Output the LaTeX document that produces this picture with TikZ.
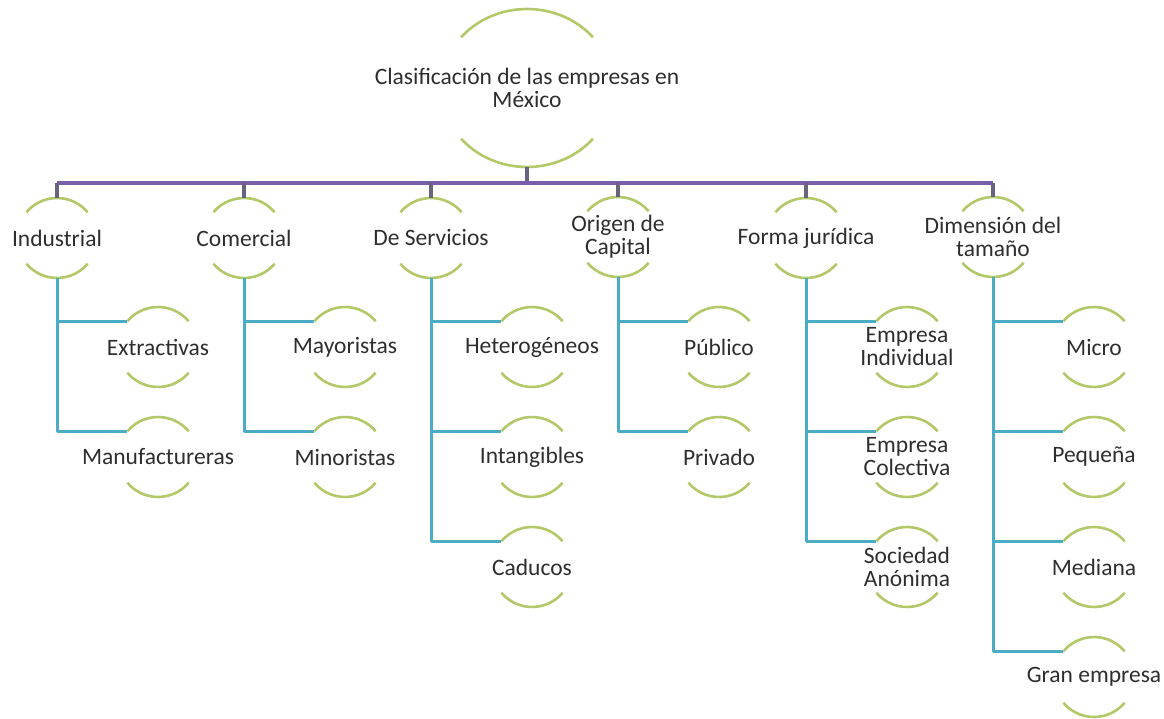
\documentclass[tikz,border=0pt]{standalone}
\usepackage{fontspec}
\setmainfont{Carlito}
\usepackage{tikz}
\usetikzlibrary{calc}
\definecolor{arcgreen}{RGB}{178,200,105}
\definecolor{buspurple}{RGB}{120,95,170}
\definecolor{stemgray}{RGB}{105,100,125}
\definecolor{ramateal}{RGB}{75,172,198}
\tikzset{
	texto/.style={align=center, inner sep=0pt, font=\fontsize{23.5}{23}\selectfont, text=black!82},
	arco/.style={draw=arcgreen, line width=2.6pt},
	bus/.style={draw=buspurple, line width=3.2pt},
	tallo/.style={draw=stemgray, line width=3.2pt},
	rama/.style={draw=ramateal, line width=3pt}
}

\begin{document}
\begin{tikzpicture}[x=1pt, y=1pt, line join=bevel]
				\useasboundingbox (0,0) rectangle (1164,-719);
				
				\node[texto] (raiz) at (527,-88) {Clasificación de las empresas en\\México};
				
				\node[texto] (ind) at (57,-238) {Industrial};
				\node[texto] (com) at (244,-238) {Comercial};
				\node[texto] (ser) at (431,-238) {De Servicios};
				\node[texto] (ori) at (618,-237) {Origen de\\Capital};
				\node[texto] (for) at (806,-238) {Forma jurídica};
				\node[texto] (dim) at (993,-237) {Dimensión del\\tamaño};
				
				\node[texto] (ind1) at (158,-347) {Extractivas};
				\node[texto] (ind2) at (158,-457) {Manufactureras};
				\node[texto] (com1) at (345,-347) {Mayoristas};
				\node[texto] (com2) at (345,-457) {Minoristas};
				\node[texto] (ser1) at (532,-347) {Heterogéneos};
				\node[texto] (ser2) at (532,-457) {Intangibles};
				\node[texto] (ser3) at (532,-567) {Caducos};
				\node[texto] (ori1) at (719,-347) {Público};
				\node[texto] (ori2) at (719,-457) {Privado};
				\node[texto] (for1) at (907,-347) {Empresa\\Individual};
				\node[texto] (for2) at (907,-457) {Empresa\\Colectiva};
				\node[texto] (for3) at (907,-567) {Sociedad\\Anónima};
				\node[texto] (dim1) at (1094,-347) {Micro};
				\node[texto] (dim2) at (1094,-457) {Pequeña};
				\node[texto] (dim3) at (1094,-567) {Mediana};
				\node[texto] (dim4) at (1094,-677) {Gran empresa};
				
				% Arcs round the root
				\draw[arco] ($(raiz)+(140:86 and 79)$) arc[start angle=140, end angle=40, x radius=86, y radius=79];
				\draw[arco] ($(raiz)+(220:86 and 79)$) arc[start angle=220, end angle=320, x radius=86, y radius=79];
				
				% Arcs round the other nodes
				\foreach \n in {ind,com,ser,ori,for,dim,ind1,ind2,com1,com2,ser1,ser2,ser3,ori1,ori2,for1,for2,for3,dim1,dim2,dim3,dim4}{
					\draw[arco] ($(\n)+(140:40)$) arc[start angle=140, end angle=40, radius=40];
					\draw[arco] ($(\n)+(220:40)$) arc[start angle=220, end angle=320, radius=40];
				}
				
				% Bus
				\draw[tallo] ($(raiz)+(0,-79)$) -- ++(0,-16) coordinate (bus);
				\draw[bus] (bus -| ind) -- (bus -| dim);
				\foreach \n in {ind,com,ser,ori,for,dim}
				\draw[tallo] (bus -| \n) -- ($(\n)+(0,40)$);
				
				% Branches
				\foreach \p/\h in {ind/ind1,ind/ind2,com/com1,com/com2,ser/ser1,ser/ser2,ser/ser3,ori/ori1,ori/ori2,for/for1,for/for2,for/for3,dim/dim1,dim/dim2,dim/dim3,dim/dim4}
				\draw[rama] ($(\p)+(0,-40)$) |- ($(\h)+(140:40)$);
			\end{tikzpicture}
\end{document}
